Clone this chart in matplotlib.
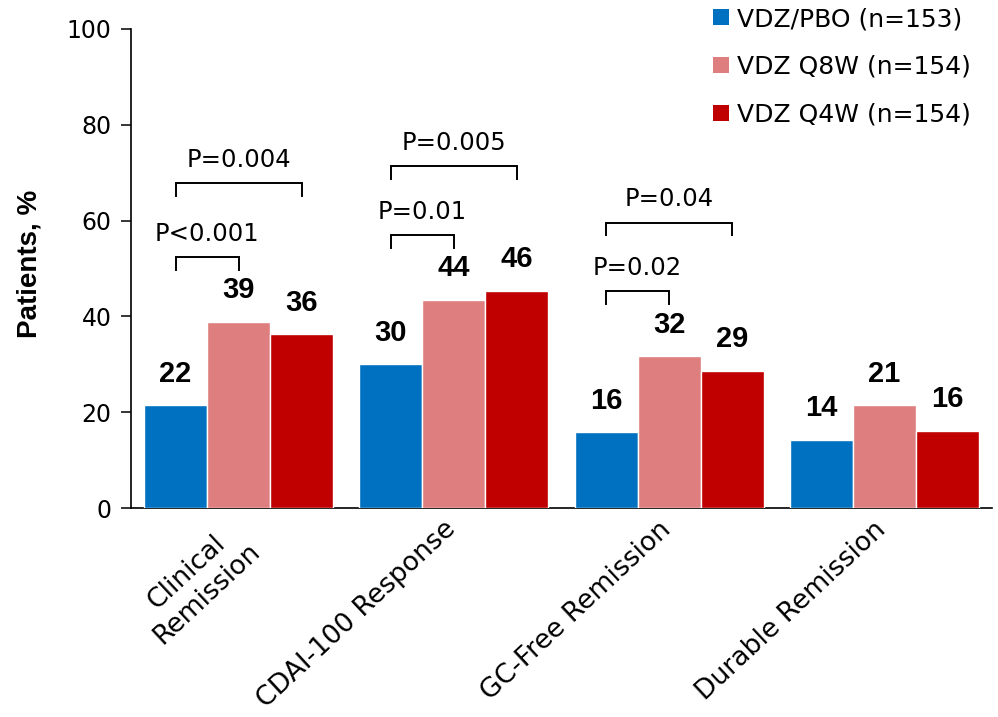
import numpy as np
import matplotlib.pyplot as plt
import matplotlib.transforms as mtransforms
from matplotlib.patches import Patch

plt.rcParams['font.family'] = ['DejaVu Sans']

categories = ['Clinical\nRemission', 'CDAI-100 Response', 'GC-Free Remission', 'Durable Remission']
series_names = ['VDZ/PBO (n=153)', 'VDZ Q8W (n=154)', 'VDZ Q4W (n=154)']
colors = ['#0070C0', '#DE7E7E', '#C00000']

# bar heights and the rounded labels printed above them
vdz_pbo = [21.5, 30.0, 15.8, 14.3]
vdz_q8w = [38.9, 43.5, 31.7, 21.4]
vdz_q4w = [36.3, 45.4, 28.7, 16.1]
lbl_pbo = [22, 30, 16, 14]
lbl_q8w = [39, 44, 32, 21]
lbl_q4w = [36, 46, 29, 16]

# p-value brackets: (group, from bar, to bar, bracket height, text)
brackets = [
    (0, 0, 1, 52.3, 'P<0.001'),
    (0, 0, 2, 67.8, 'P=0.004'),
    (1, 0, 1, 57.0, 'P=0.01'),
    (1, 0, 2, 71.3, 'P=0.005'),
    (2, 0, 1, 45.3, 'P=0.02'),
    (2, 0, 2, 59.6, 'P=0.04'),
]

values = [vdz_pbo, vdz_q8w, vdz_q4w]
labels = [lbl_pbo, lbl_q8w, lbl_q4w]

fig = plt.figure(figsize=(9.98, 7.17), dpi=100)
ax = fig.add_axes([131/998, 209/717, 861/998, 479/717])

x = np.arange(len(categories))
w = 0.293
offsets = [-w, 0, w]

for vals, lbls, col, off in zip(values, labels, colors, offsets):
    ax.bar(x + off, vals, width=w, color=col, edgecolor='white', linewidth=1, zorder=3)
    for xi, v, l in zip(x, vals, lbls):
        ax.text(xi + off, v + 4.9, str(l), ha='center', va='baseline',
                fontsize=21, fontweight='bold', family='Liberation Sans')

leg = 2.7
for g, i, j, yb, txt in brackets:
    x0 = g + offsets[i]
    x1 = g + offsets[j]
    ax.plot([x0, x0, x1, x1], [yb - leg, yb, yb, yb - leg], color='black', lw=1.4,
            solid_joinstyle='miter', zorder=4)
    ax.text((x0 + x1) / 2, yb + 3.4, txt, ha='center', va='baseline', fontsize=17.5)

ax.set_xlim(-0.5, 3.5)
ax.set_ylim(0, 100)
ax.set_yticks([0, 20, 40, 60, 80, 100])
ax.tick_params(axis='y', direction='out', length=7, width=1.1, pad=7, labelsize=17)
ax.set_xticks(x)
ax.set_xticklabels(categories, rotation=43, ha='right', rotation_mode='anchor',
                   fontsize=19.2, multialignment='center')
ax.tick_params(axis='x', length=0, pad=6)
shift = mtransforms.ScaledTranslation(-8/72, 0, fig.dpi_scale_trans)
for lab in ax.get_xticklabels():
    lab.set_transform(lab.get_transform() + shift)

ax.spines['top'].set_visible(False)
ax.spines['right'].set_visible(False)
ax.spines['left'].set_linewidth(1.2)
ax.spines['bottom'].set_linewidth(1.2)

ax.set_ylabel('Patients, %', fontsize=20, fontweight='bold', family='Liberation Sans')
ax.yaxis.set_label_coords(-0.103, 0.51)

handles = [Patch(facecolor=c, edgecolor='none') for c in colors]
fig.legend(handles, series_names, loc='upper left', bbox_to_anchor=(713/998, 1 - 7/717),
           frameon=False, fontsize=18, handlelength=0.62, handleheight=0.62,
           handletextpad=0.35, labelspacing=0.95, borderpad=0, borderaxespad=0)

fig.savefig('out.png', dpi=100)
